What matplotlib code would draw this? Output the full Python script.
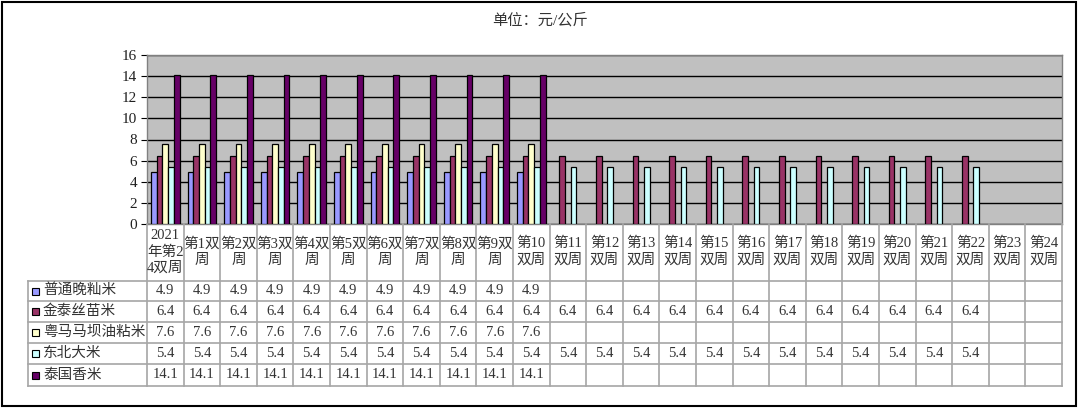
import numpy as np
import matplotlib
matplotlib.use('Agg')
import matplotlib.pyplot as plt
from matplotlib.patches import Rectangle

plt.rcParams['font.family'] = ['Liberation Serif', 'Noto Sans CJK SC']
plt.rcParams['axes.unicode_minus'] = False

# ---- data ----
categories = ['2021\n年第2\n4双周'] + ['第%d双\n周' % i for i in range(1, 10)] + \
             ['第%d\n双周' % i for i in range(10, 25)]
series_names = ['普通晚籼米', '金泰丝苗米', '粤马马坝油粘米', '东北大米', '泰国香米']
nan = np.nan
putong = [4.9] * 11 + [nan] * 14
jintai = [6.4] * 23 + [nan] * 2
yuema = [7.6] * 11 + [nan] * 14
dongbei = [5.4] * 23 + [nan] * 2
taiguo = [14.1] * 11 + [nan] * 14
series = [putong, jintai, yuema, dongbei, taiguo]
colors = ['#9999FF', '#993366', '#FFFFCC', '#CCFFFF', '#660066']
yticks = [0, 2, 4, 6, 8, 10, 12, 14, 16]

W, H = 1080, 408
fig = plt.figure(figsize=(W / 100, H / 100), dpi=100)
fig.patch.set_facecolor('white')

def fx(px):
    return px / W

def fy(py):
    return 1 - py / H

# plot area in pixels
L, R, T, B = 147, 1062, 55, 224
ax = fig.add_axes([fx(L), fy(B), fx(R) - fx(L), fy(T) - fy(B)])
ax.set_facecolor('#C0C0C0')
n = len(categories)
x = np.arange(n)
bw = 0.156
for i, (vals, c) in enumerate(zip(series, colors)):
    ax.bar(x + (i - 2) * bw, vals, width=bw, color=c, edgecolor='black',
           linewidth=0.9, zorder=3)
ax.set_xlim(-0.5, n - 0.5)
ax.set_ylim(0, 16)
ax.set_yticks(yticks)
ax.set_xticks([])
ax.yaxis.grid(True, color='black', linewidth=1.0, zorder=1)
ax.set_axisbelow(True)
ax.tick_params(axis='y', length=4, width=0.8, color='black', labelsize=11,
               labelcolor='#202020', pad=3)
for s in ax.spines.values():
    s.set_color('#808080')
    s.set_linewidth(1)

# title
fig.text(fx(540), fy(20), '单位：元/公斤', ha='center', va='center',
         fontsize=11, color='#333333')

# ---- data table ----
TL = 28
row_y = [224, 281, 301, 322, 343, 364, 386]
tab = fig.add_axes([0, 0, 1, 1])
tab.set_xlim(0, W)
tab.set_ylim(H, 0)
tab.axis('off')
tab.patch.set_alpha(0)
cw = (R - L) / n
gcol = '#A6A6A6'
# vertical lines
for k in range(n + 1):
    xx = L + k * cw
    tab.plot([xx, xx], [row_y[0], row_y[-1]], color=gcol, lw=1.2)
tab.plot([TL, TL], [row_y[1], row_y[-1]], color=gcol, lw=1.2)
# horizontal lines
for yy in row_y[1:]:
    tab.plot([TL, R], [yy, yy], color=gcol, lw=1.2)

# header labels
for k, lab in enumerate(categories):
    cx = L + (k + 0.5) * cw
    tab.text(cx, 252, lab, ha='center', va='center', fontsize=10.5,
             color='#333333', linespacing=1.3)

# row labels and values
for r, (name, vals, c) in enumerate(zip(series_names, series, colors)):
    cy = (row_y[r + 1] + row_y[r + 2]) / 2
    tab.add_patch(Rectangle((32, cy - 3.5), 7, 7, facecolor=c, edgecolor='black',
                            lw=0.8))
    tab.text(43, cy, name, ha='left', va='center', fontsize=10.5, color='#333333')
    for k, v in enumerate(vals):
        if not np.isnan(v):
            tab.text(L + (k + 0.5) * cw, cy, '%.1f' % v, ha='center', va='center',
                     fontsize=10.5, color='#333333')

# outer frame
fig.patches.append(Rectangle((fx(1.5), fy(406)), fx(1076) - fx(1.5), fy(1.5) - fy(406),
                             transform=fig.transFigure, fill=False,
                             edgecolor='black', lw=1.5))

fig.savefig('out.png', dpi=100)
